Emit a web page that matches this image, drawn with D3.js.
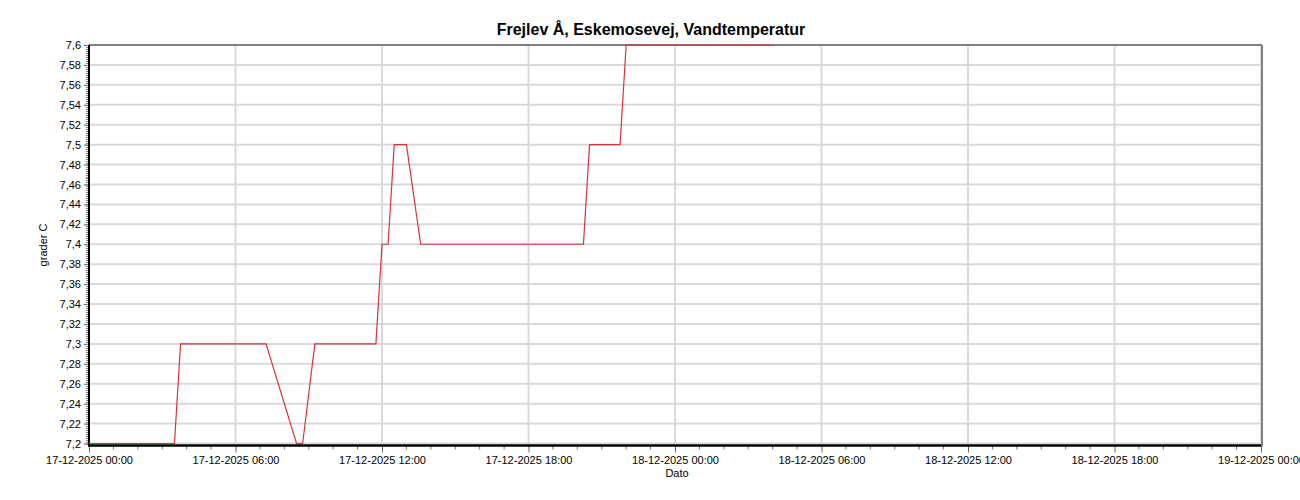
<!DOCTYPE html>
<html><head><meta charset="utf-8">
<script src="https://cdn.jsdelivr.net/npm/d3@7"></script>
<style>body{margin:0;background:#fff}svg{display:block;font-family:"Liberation Sans",Arial,sans-serif}</style>
</head><body><svg id="c" width="1300" height="500"></svg>
<script>
const title = "Frejlev Å, Eskemosevej, Vandtemperatur";
const yLabel = "grader C";
const xLabel = "Dato";
const times = ["2025-12-17T00:00","2025-12-17T03:30","2025-12-17T03:45","2025-12-17T07:15","2025-12-17T08:30","2025-12-17T08:45","2025-12-17T09:15","2025-12-17T11:45","2025-12-17T12:00","2025-12-17T12:15","2025-12-17T12:30","2025-12-17T13:00","2025-12-17T13:35","2025-12-17T20:15","2025-12-17T20:30","2025-12-17T21:45","2025-12-17T22:00","2025-12-18T04:00"];
const values = [7.2,7.2,7.3,7.3,7.2,7.2,7.3,7.3,7.4,7.4,7.5,7.5,7.4,7.4,7.5,7.5,7.6,7.6];
const yTicks = [7.2,7.22,7.24,7.26,7.28,7.3,7.32,7.34,7.36,7.38,7.4,7.42,7.44,7.46,7.48,7.5,7.52,7.54,7.56,7.58,7.6];
const xDomain = ["2025-12-17T00:00","2025-12-19T00:00"];

const parse = d3.timeParse("%Y-%m-%dT%H:%M");
const data = times.map((t,i)=>({t:parse(t), v:values[i]}));
const svg = d3.select("#c");
const L=89, R=1261, T=45, B=443.5;
const x = d3.scaleTime().domain(xDomain.map(parse)).range([L,R]);
const y = d3.scaleLinear().domain([7.2,7.6]).range([B,T]);
const fmtY = v => d3.format(".2~f")(v).replace(".", ",");
const fmtX = d3.timeFormat("%d-%m-%Y %H:%M");

// gridlines
svg.append("g").selectAll("line").data(yTicks).join("line")
  .attr("x1",L).attr("x2",R).attr("y1",d=>y(d)).attr("y2",d=>y(d))
  .attr("stroke","#d9d9d9").attr("stroke-width",2);
const majorX = x.ticks(d3.timeHour.every(6));
svg.append("g").selectAll("line").data(majorX).join("line")
  .attr("x1",d=>x(d)).attr("x2",d=>x(d)).attr("y1",T).attr("y2",B)
  .attr("stroke","#d9d9d9").attr("stroke-width",2);

// top/right border
svg.append("line").attr("x1",L).attr("x2",R+1).attr("y1",T).attr("y2",T).attr("stroke","#808080").attr("stroke-width",2);
svg.append("line").attr("x1",R+1).attr("x2",R+1).attr("y1",T).attr("y2",B+3).attr("stroke","#808080").attr("stroke-width",2);

// y axis
const yAxis = d3.axisLeft(y).tickValues(yTicks).tickFormat(fmtY).tickSize(4).tickPadding(3);
const gy = svg.append("g").attr("transform",`translate(${L-1},0)`).call(yAxis);
gy.select(".domain").remove();
gy.selectAll("text").attr("font-size",11).attr("fill","#000").attr("font-family","Liberation Sans, Arial, sans-serif");
gy.selectAll(".tick line").attr("stroke","#555");
// y minor ticks
const minorY = d3.range(0,201).map(i=>7.2+i*0.002);
svg.append("g").selectAll("line").data(minorY).join("line")
  .attr("x1",L-3).attr("x2",L-1).attr("y1",d=>Math.round(y(d))+0.5).attr("y2",d=>Math.round(y(d))+0.5)
  .attr("stroke","#888").attr("stroke-width",1);

// x axis
const xAxis = d3.axisBottom(x).tickValues(majorX).tickFormat(fmtX).tickSize(7).tickPadding(4);
const gx = svg.append("g").attr("transform",`translate(0,${B+2})`).call(xAxis);
gx.select(".domain").remove();
gx.selectAll("text").attr("font-size",11).attr("fill","#000").attr("font-family","Liberation Sans, Arial, sans-serif");
gx.selectAll(".tick line").attr("stroke","#666");
const minorX = d3.timeMinute.every(90).range(...xDomain.map(parse));
svg.append("g").selectAll("line").data(minorX.filter(d=>d.getHours()%6!==0 || d.getMinutes()!==0)).join("line")
  .attr("x1",d=>x(d)).attr("x2",d=>x(d)).attr("y1",B+2).attr("y2",B+6)
  .attr("stroke","#777");

// axis lines
svg.append("line").attr("x1",L).attr("x2",L).attr("y1",T).attr("y2",B+3).attr("stroke","#000").attr("stroke-width",2);
svg.append("line").attr("x1",L-1).attr("x2",R).attr("y1",B+2).attr("y2",B+2).attr("stroke","#000").attr("stroke-width",2.5);

// line (on top)
svg.append("path").datum(data)
  .attr("d", d3.line().x(d=>x(d.t)).y(d=>y(d.v)))
  .attr("fill","none").attr("stroke","#d4343c").attr("stroke-width",1.2);

// labels
svg.append("text").attr("x",651).attr("y",35).attr("text-anchor","middle").attr("font-size",16).attr("font-weight","bold").text(title);
svg.append("text").attr("x",677).attr("y",477).attr("text-anchor","middle").attr("font-size",11).text(xLabel);
svg.append("text").attr("transform","translate(47,245) rotate(-90)").attr("text-anchor","middle").attr("font-size",11).text(yLabel);
</script></body></html>
